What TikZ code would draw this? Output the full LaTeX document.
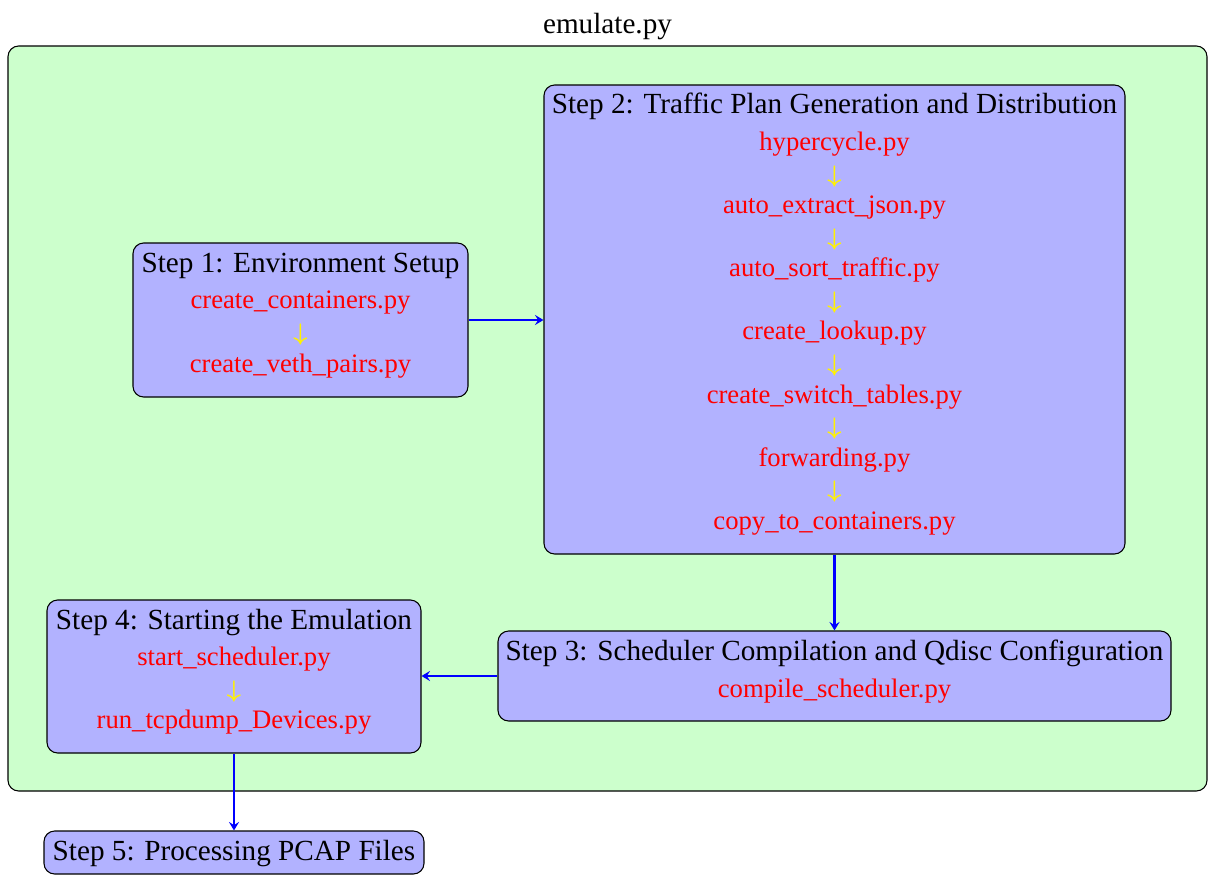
\documentclass[tikz,border=0pt]{standalone}
\usepackage{fontspec}
\setmainfont{Liberation Serif}
\usetikzlibrary{fit,arrows.meta}
\begin{document}
\begin{tikzpicture}[x=0.375pt, y=-0.375pt,
  frame/.style={draw=black, fill=green!20, rounded corners=4pt, inner sep=0pt},
  stepbox/.style={draw=black, fill=blue!30, rounded corners=4pt, inner sep=0pt},
  heading/.style={anchor=base, inner sep=0pt, text=black, font=\fontsize{10.95}{13}\selectfont},
  steptitle/.style={heading},
  script/.style={anchor=base, inner sep=0pt, text=red},
  substep/.style={inner sep=0pt, text=yellow, font=\fontsize{9}{10}\selectfont\boldmath},
  flow/.style={draw=blue, thick, -{Stealth[length=3.2pt, width=3.8pt, inset=1.2pt]}}]
  \useasboundingbox (0,0) rectangle (1208,875);

  % outer frame for the emulate.py driver
  \node[heading] (title) at (607.5,33) {emulate.py};
  \node[frame, fit={(8,46) (1207,791)}] (env) {};

  % step boxes
  \node[stepbox, fit={(133,243) (468,397)}] (s1) {};
  \node[stepbox, fit={(544,85) (1125,554)}] (s2) {};
  \node[stepbox, fit={(498,631) (1171,721)}] (s3) {};
  \node[stepbox, fit={(47,600) (421,753)}] (s4) {};
  \node[stepbox, fit={(44,831) (424,874)}] (s5) {};

  % Step 1
  \node[steptitle] (s1t) at (300.5,272) {Step 1: Environment Setup};
  \node[script] (s1a) at (300.5,308) {create\_containers.py};
  \node[substep] (s1x) at (300.5,334) {$\downarrow$};
  \node[script] (s1b) at (300.5,372) {create\_veth\_pairs.py};

  % Step 2
  \node[steptitle] (s2t) at (834.5,113) {Step 2: Traffic Plan Generation and Distribution};
  \node[script] (s2a) at (834.5,150) {hypercycle.py};
  \node[substep] (s2x1) at (834.5,176) {$\downarrow$};
  \node[script] (s2b) at (834.5,213) {auto\_extract\_json.py};
  \node[substep] (s2x2) at (834.5,239) {$\downarrow$};
  \node[script] (s2c) at (834.5,276) {auto\_sort\_traffic.py};
  \node[substep] (s2x3) at (834.5,302) {$\downarrow$};
  \node[script] (s2d) at (834.5,339) {create\_lookup.py};
  \node[substep] (s2x4) at (834.5,365) {$\downarrow$};
  \node[script] (s2e) at (834.5,403) {create\_switch\_tables.py};
  \node[substep] (s2x5) at (834.5,428) {$\downarrow$};
  \node[script] (s2f) at (834.5,466) {forwarding.py};
  \node[substep] (s2x6) at (834.5,491) {$\downarrow$};
  \node[script] (s2g) at (834.5,529) {copy\_to\_containers.py};

  % Step 3
  \node[steptitle] (s3t) at (834.5,660) {Step 3: Scheduler Compilation and Qdisc Configuration};
  \node[script] (s3a) at (834.5,697) {compile\_scheduler.py};

  % Step 4
  \node[steptitle] (s4t) at (234,629) {Step 4: Starting the Emulation};
  \node[script] (s4a) at (234,665) {start\_scheduler.py};
  \node[substep] (s4x) at (234,691) {$\downarrow$};
  \node[script] (s4b) at (234,728) {run\_tcpdump\_Devices.py};

  % Step 5
  \node[steptitle] (s5t) at (234,860) {Step 5: Processing PCAP Files};

  % flow between steps
  \draw[flow] (s1.east) -- (s1.east -| s2.west);
  \draw[flow] (s2.south) -- (s3.north);
  \draw[flow] (s3.west) -- (s3.west -| s4.east);
  \draw[flow] (s4.south) -- (s5.north);
\end{tikzpicture}
\end{document}
